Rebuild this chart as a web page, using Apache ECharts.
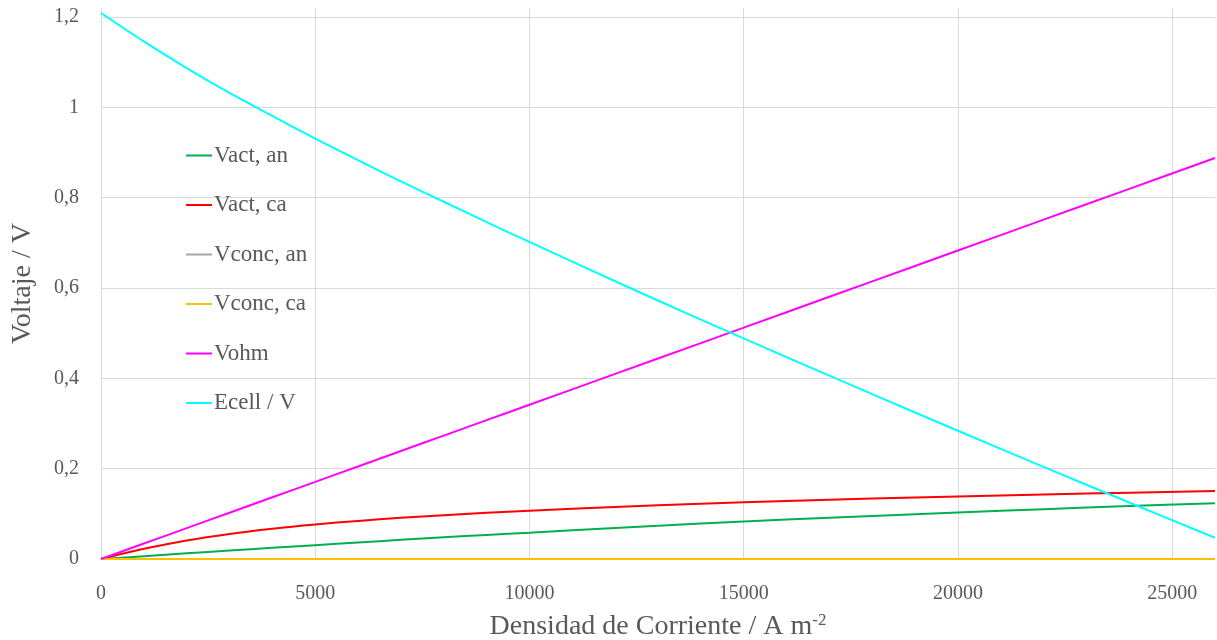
<!DOCTYPE html>
<html>
<head>
<meta charset="utf-8">
<script src="https://cdn.jsdelivr.net/npm/echarts@6/dist/echarts.min.js"></script>
<style>
  html, body { margin: 0; padding: 0; background: #ffffff; }
  #chart { width: 1217px; height: 640px; }
</style>
</head>
<body>
<div id="chart"></div>
<script>
// Current density (A m-2)
const currentDensity = [0, 1000, 2000, 3000, 4000, 5000, 6000, 7000, 8000, 9000, 10000,
  12000, 14000, 16000, 18000, 20000, 22000, 24000, 26000];

// Voltage contributions (V)
const vActAn = [0, 0.0063, 0.0125, 0.0187, 0.0248, 0.0307, 0.0366, 0.0424, 0.0480, 0.0534, 0.0583,
  0.0688, 0.0785, 0.0874, 0.0954, 0.1032, 0.1104, 0.1173, 0.1237];
const vActCa = [0, 0.0225, 0.0411, 0.0556, 0.0671, 0.0765, 0.0844, 0.0911, 0.0970, 0.1023, 0.1070,
  0.1153, 0.1223, 0.1284, 0.1337, 0.1385, 0.1429, 0.1469, 0.1505];
const vConcAn = [0, 0, 0, 0, 0, 0, 0, 0, 0, 0, 0, 0, 0, 0, 0, 0, 0, 0, 0];
const vConcCa = [0, 0, 0, 0, 0, 0, 0, 0, 0, 0, 0, 0, 0, 0, 0, 0, 0, 0, 0];
const vOhm = [0, 0.0342, 0.0683, 0.1025, 0.1366, 0.1708, 0.2049, 0.2391, 0.2732, 0.3074, 0.3415,
  0.4098, 0.4781, 0.5464, 0.6147, 0.6830, 0.7513, 0.8196, 0.8879];
const eCell = [1.209, 1.146, 1.087, 1.032, 0.981, 0.931, 0.883, 0.836, 0.791, 0.746, 0.702,
  0.615, 0.530, 0.447, 0.365, 0.284, 0.204, 0.125, 0.047];

const seriesNames = ['Vact, an', 'Vact, ca', 'Vconc, an', 'Vconc, ca', 'Vohm', 'Ecell / V'];
const seriesColors = ['#00b050', '#ff0000', '#a5a5a5', '#ffc000', '#ff00ff', '#00ffff'];
const seriesValues = [vActAn, vActCa, vConcAn, vConcCa, vOhm, eCell];

const FONT = '"Liberation Serif", "DejaVu Serif", serif';
const TEXT = '#595959';
const GRID = '#d9d9d9';

const chart = echarts.init(document.getElementById('chart'), null, { renderer: 'canvas' });

chart.setOption({
  backgroundColor: '#ffffff',
  animation: false,
  textStyle: { fontFamily: FONT, color: TEXT },
  grid: { left: 101, right: 2, top: 8, bottom: 81, containLabel: false, outerBoundsMode: 'none' },
  legend: {
    orient: 'vertical',
    left: 181,
    top: 139,
    icon: 'rect',
    itemWidth: 26,
    itemHeight: 2,
    itemGap: 26.5,
    data: seriesNames,
    textStyle: { fontFamily: FONT, fontSize: 23, color: TEXT, lineHeight: 23, padding: [0, 0, 0, -3] }
  },
  xAxis: {
    type: 'value',
    min: 0,
    max: 26000,
    interval: 5000,
    name: '{b|Densidad de Corriente / A m}{s|-2}',
    nameLocation: 'middle',
    nameGap: 52,
    nameTextStyle: {
      fontFamily: FONT,
      fontSize: 28,
      color: TEXT,
      rich: {
        b: { fontFamily: FONT, fontSize: 28, color: TEXT, lineHeight: 32 },
        s: { fontFamily: FONT, fontSize: 17, color: TEXT, lineHeight: 32, padding: [0, 0, 13, 0] }
      }
    },
    axisLine: { show: false },
    axisTick: { show: false },
    axisLabel: {
      fontFamily: FONT, fontSize: 20, color: TEXT, margin: 25,
      showMaxLabel: false,
      formatter: v => String(v)
    },
    splitLine: { show: true, showMaxLine: false, lineStyle: { color: GRID, width: 1 } }
  },
  yAxis: {
    type: 'value',
    min: 0,
    max: 1.22,
    interval: 0.2,
    name: 'Voltaje / V',
    nameLocation: 'middle',
    nameGap: 64,
    nameTextStyle: { fontFamily: FONT, fontSize: 28, color: TEXT },
    axisLine: { show: false },
    axisTick: { show: false },
    axisLabel: {
      fontFamily: FONT, fontSize: 20, color: TEXT, margin: 22,
      showMaxLabel: false,
      formatter: v => String(+v.toFixed(1)).replace('.', ',')
    },
    splitLine: { show: true, showMaxLine: false, lineStyle: { color: GRID, width: 1 } }
  },
  series: seriesNames.map((name, k) => ({
    name: name,
    type: 'line',
    data: currentDensity.map((x, i) => [x, seriesValues[k][i]]),
    smooth: 0.3,
    showSymbol: false,
    symbol: 'none',
    color: seriesColors[k],
    lineStyle: { color: seriesColors[k], width: 2 },
    z: 2 + k
  }))
});
</script>
</body>
</html>
